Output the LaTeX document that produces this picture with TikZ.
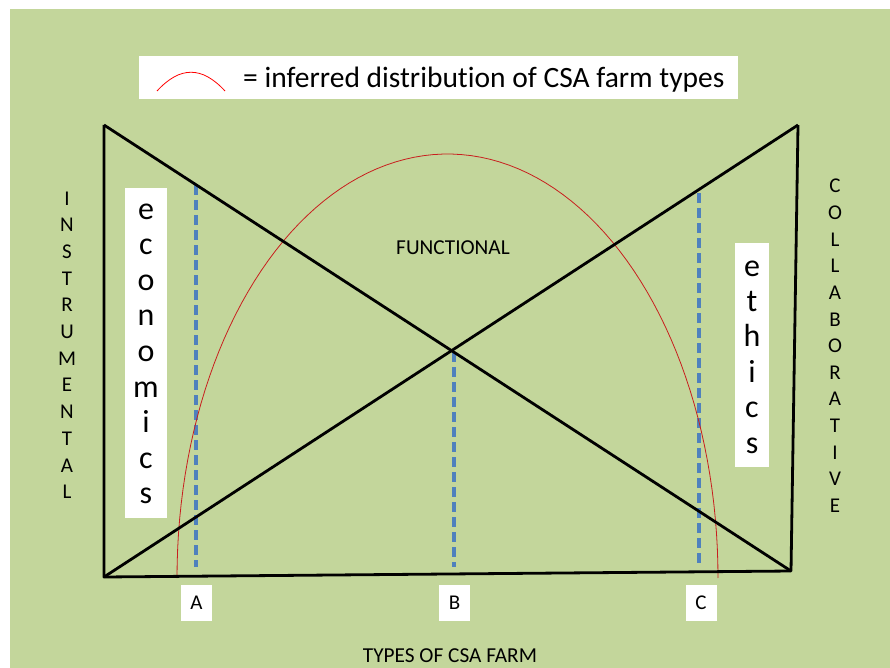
\documentclass[tikz,border=0pt]{standalone}
\usepackage{fontspec}
\setmainfont{Carlito}[Ligatures=NoCommon]
\definecolor{bggreen}{RGB}{195,214,155}
\definecolor{dashblue}{RGB}{79,129,189}
\definecolor{arcred}{RGB}{200,30,30}
\tikzset{px/.style={x=1pt,y=-1pt}}
\tikzset{frame/.style={black,line width=2.8pt,line join=round},
         cut/.style={dashblue,line width=3.4pt,dash pattern=on 10pt off 5pt},
         tag/.style={fill=white,minimum width=31pt,minimum height=36pt,inner sep=0pt,font=\fontsize{21}{21}\selectfont},
         bigletter/.style={anchor=base,inner sep=0pt,font=\fontsize{32}{32}\selectfont},
         sideletter/.style={anchor=base,inner sep=0pt,font=\fontsize{21}{21}\selectfont}}

\begin{document}
\begin{tikzpicture}[px]
    \useasboundingbox (0,0) rectangle (890,668);
    \fill[bggreen] (10,9) rectangle (890,668);
    % legend
    \node[fill=white,minimum width=599pt,minimum height=43pt,inner sep=0pt] (legend) at (438.5,77.5) {};
    \draw[red,thick] (157,91) .. controls (180,66) and (202,66) .. (225,91);
    \node[anchor=base west,inner sep=0pt,font=\fontsize{29.5}{29.5}\selectfont] (legtext) at (243,88) {= inferred distribution of CSA farm types};
    % frame corners
    \coordinate (tl) at (104,125);
    \coordinate (bl) at (104,577);
    \coordinate (tr) at (798,125);
    \coordinate (br) at (791,571);
    % dashed cuts
    \coordinate (atop) at (196,185);  \coordinate (abot) at (196,567);
    \coordinate (btop) at (454,352);  \coordinate (bbot) at (454,567);
    \coordinate (ctop) at (699,193);  \coordinate (cbot) at (699,565);
    \draw[cut] (atop) -- (abot);
    \draw[cut] (btop) -- (bbot);
    \draw[cut] (ctop) -- (cbot);
    % distribution
    \draw[arcred,line width=0.8pt] plot[domain=180:0,samples=90] ({447.5+270.5*cos(\x)},{578-424*sin(\x)});
    % frame
    \draw[frame] (tl) -- (bl) -- (br) -- (tr);
    \draw[frame] (tl) -- (br);
    \draw[frame] (bl) -- (tr);
    % boxes
    \node[fill=white,minimum width=42pt,minimum height=330pt,inner sep=0pt] (econbox) at (146,353) {};
    \node[fill=white,minimum width=34pt,minimum height=224pt,inner sep=0pt] (ethbox) at (752,355) {};
    \foreach \l [count=\i from 0] in {e,c,o,n,o,m,i,c,s}
        \node[bigletter] (econ\i) at (146,{219+35.6*\i}) {\l};
    \foreach \l [count=\i from 0] in {e,t,h,i,c,s}
        \node[bigletter] (eth\i) at (752,{276+35.4*\i}) {\l};
    \foreach \l [count=\i from 0] in {I,N,S,T,R,U,M,E,N,T,A,L}
        \node[sideletter] (ins\i) at (67,{205+26.7*\i}) {\l};
    \foreach \l [count=\i from 0] in {C,O,L,L,A,B,O,R,A,T,I,V,E}
        \node[sideletter] (col\i) at (835,{193+26.6*\i}) {\l};
    \node[font=\fontsize{21.3}{21.3}\selectfont] (func) at (453,248) {FUNCTIONAL};
    % farm types
    \node[tag] (A) at (196.5,603) {A};
    \node[tag] (B) at (454.5,603) {B};
    \node[tag] (C) at (701,603) {C};
    \node[font=\fontsize{21.3}{21.3}\selectfont] (types) at (450,656) {TYPES OF CSA FARM};
\end{tikzpicture}
\end{document}
